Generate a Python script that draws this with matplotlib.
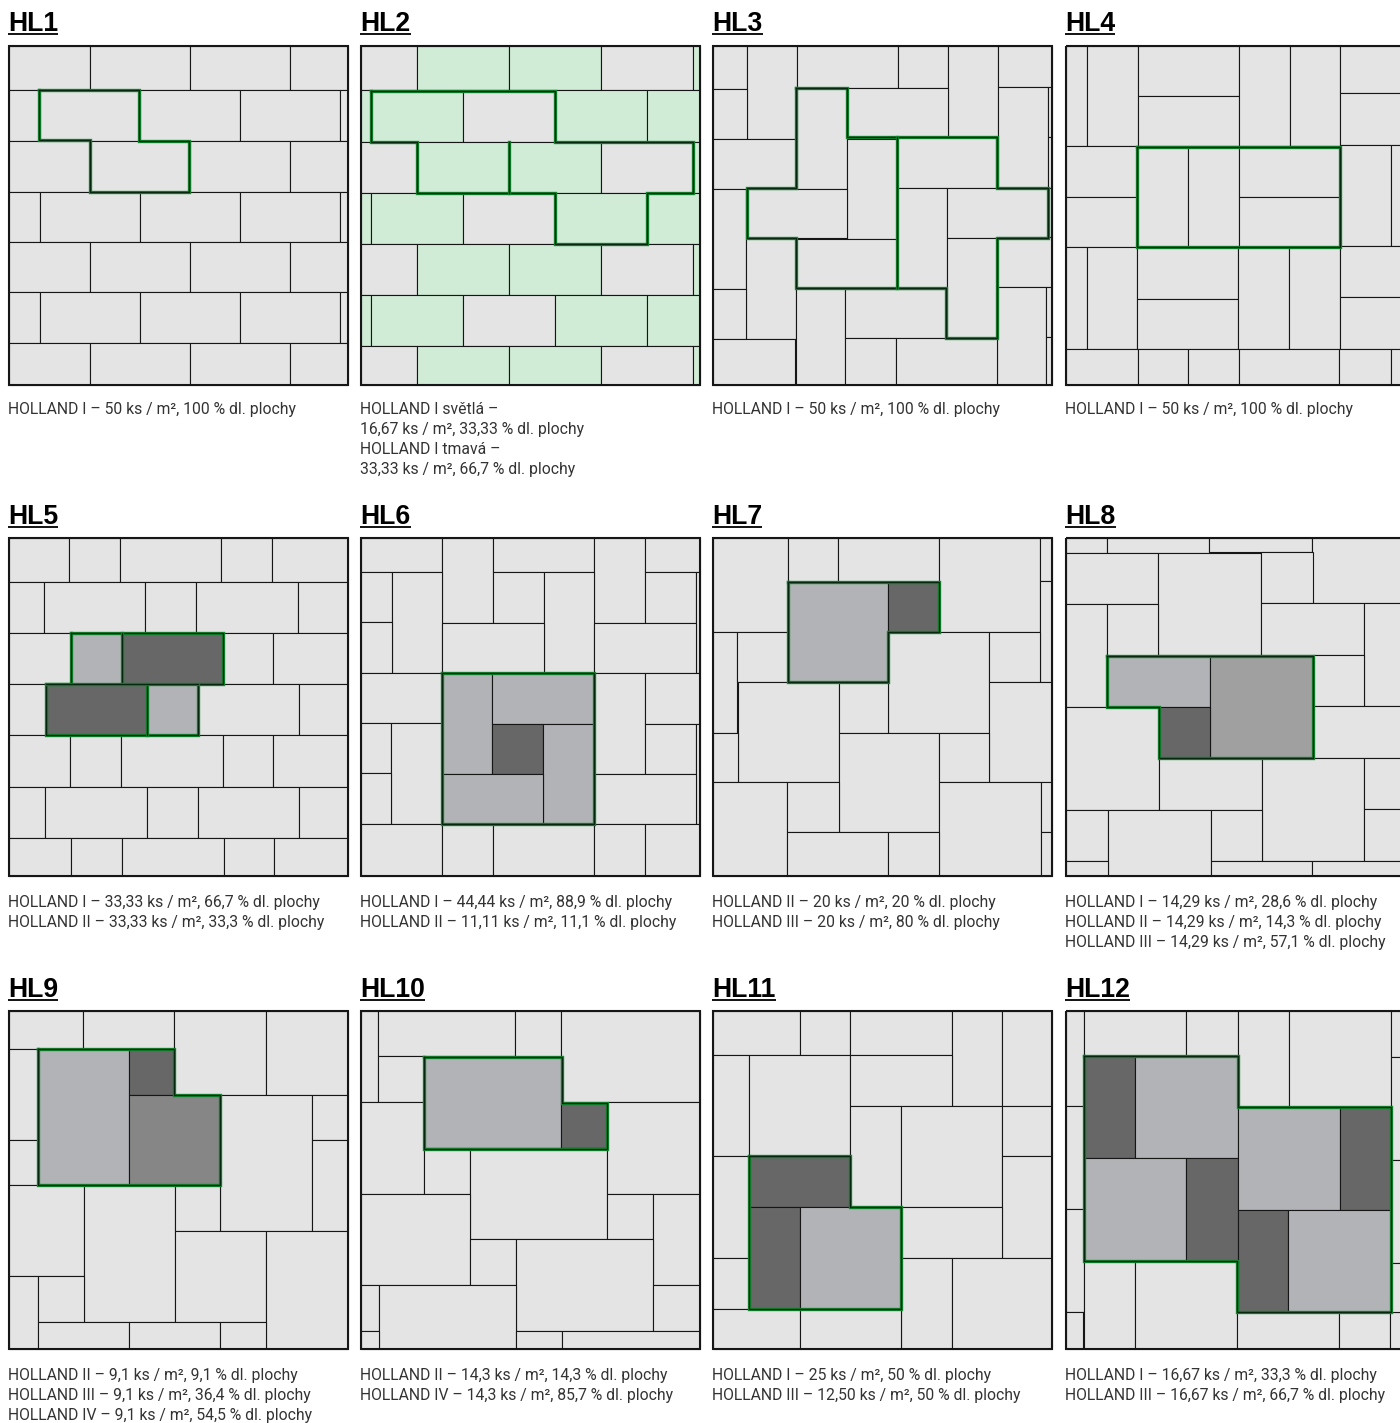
from matplotlib import pyplot as plt
from matplotlib.patches import Rectangle

GREY = '#E4E4E4'
LIGHT = '#B2B3B6'
DARK = '#676767'
MID = '#A0A0A0'
MID2 = '#868686'
MINT = '#D0EBD6'

# panel origins on the page, tile numbers below are in 1/3 px from these
origins = [(0, 0), (355, 0), (705, 0), (1055, 0),
           (0, 495), (355, 495), (705, 495), (1055, 495),
           (0, 970), (355, 970), (705, 970), (1055, 970)]
frames = [(26, 139, 1043, 1154), (18, 139, 1035, 1154), (24, 139, 1040, 1154), (33, 139, 1060, 1154),
          (26, 129, 1043, 1143), (18, 129, 1035, 1143), (24, 129, 1040, 1143), (33, 129, 1060, 1143),
          (26, 122, 1043, 1136), (18, 122, 1035, 1136), (24, 122, 1040, 1136), (33, 122, 1060, 1136)]

titles = ['HL1', 'HL2', 'HL3', 'HL4', 'HL5', 'HL6', 'HL7', 'HL8', 'HL9', 'HL10', 'HL11', 'HL12']
titleBaselines = [31, 524, 997]
captionBaselines = [414, 907.5, 1380]

captions = [
    ['HOLLAND I – 50 ks / m², 100 % dl. plochy'],
    ['HOLLAND I světlá –', '16,67 ks / m², 33,33 % dl. plochy', 'HOLLAND I tmavá –', '33,33 ks / m², 66,7 % dl. plochy'],
    ['HOLLAND I – 50 ks / m², 100 % dl. plochy'],
    ['HOLLAND I – 50 ks / m², 100 % dl. plochy'],
    ['HOLLAND I – 33,33 ks / m², 66,7 % dl. plochy', 'HOLLAND II – 33,33 ks / m², 33,3 % dl. plochy'],
    ['HOLLAND I – 44,44 ks / m², 88,9 % dl. plochy', 'HOLLAND II – 11,11 ks / m², 11,1 % dl. plochy'],
    ['HOLLAND II – 20 ks / m², 20 % dl. plochy', 'HOLLAND III – 20 ks / m², 80 % dl. plochy'],
    ['HOLLAND I – 14,29 ks / m², 28,6 % dl. plochy', 'HOLLAND II – 14,29 ks / m², 14,3 % dl. plochy',
     'HOLLAND III – 14,29 ks / m², 57,1 % dl. plochy'],
    ['HOLLAND II – 9,1 ks / m², 9,1 % dl. plochy', 'HOLLAND III – 9,1 ks / m², 36,4 % dl. plochy',
     'HOLLAND IV – 9,1 ks / m², 54,5 % dl. plochy'],
    ['HOLLAND II – 14,3 ks / m², 14,3 % dl. plochy', 'HOLLAND IV – 14,3 ks / m², 85,7 % dl. plochy'],
    ['HOLLAND I – 25 ks / m², 50 % dl. plochy', 'HOLLAND III – 12,50 ks / m², 50 % dl. plochy'],
    ['HOLLAND I – 16,67 ks / m², 33,3 % dl. plochy', 'HOLLAND III – 16,67 ks / m², 66,7 % dl. plochy'],
]

# brick bonds: (top, bottom, joints, shades)
hl1Rows = [(139, 269, [270, 570, 869], None),
           (269, 423, [120, 420, 719, 1020], None),
           (423, 575, [270, 570, 869], None),
           (575, 726, [120, 420, 719, 1020], None),
           (726, 877, [270, 570, 869], None),
           (877, 1029, [120, 420, 719, 1020], None),
           (1029, 1154, [270, 570, 869], None)]
hl2Even = [GREY, MINT, MINT, GREY, MINT]
hl2Odd = [MINT, MINT, GREY, MINT, MINT]
hl2Rows = [(139, 271, [185, 461, 737, 1013], hl2Even),
           (271, 425, [47, 323, 599, 875], hl2Odd),
           (425, 579, [185, 461, 737, 1013], hl2Even),
           (579, 733, [47, 323, 599, 875], hl2Odd),
           (733, 886, [185, 461, 737, 1013], hl2Even),
           (886, 1039, [47, 323, 599, 875], hl2Odd),
           (1039, 1154, [185, 461, 737, 1013], hl2Even)]
hl5Rows = [(129, 262, [207, 359, 664, 816], None),
           (262, 415, [131, 436, 589, 894], None),
           (415, 568, [213, 365, 669, 820], [GREY, LIGHT, DARK, GREY, GREY]),
           (568, 721, [137, 442, 595, 898], [GREY, DARK, LIGHT, GREY, GREY]),
           (721, 875, [211, 363, 668, 820], None),
           (875, 1029, [135, 440, 593, 898], None),
           (1029, 1143, [214, 366, 671, 823], None)]

# free layouts: (left, top, right, bottom, shade)
hl3Tiles = [(24, 139, 126, 268, GREY), (126, 139, 276, 417, GREY), (276, 139, 578, 264, GREY),
            (578, 139, 728, 264, GREY), (728, 139, 878, 412, GREY), (878, 139, 1040, 262, GREY),
            (24, 268, 126, 417, GREY), (276, 264, 426, 566, GREY), (426, 264, 728, 412, GREY),
            (878, 262, 1028, 563, GREY), (1028, 262, 1040, 411, GREY), (1028, 411, 1040, 563, GREY),
            (24, 417, 274, 566, GREY), (426, 417, 576, 716, GREY), (576, 412, 874, 563, GREY),
            (24, 566, 123, 867, GREY), (123, 566, 426, 713, GREY), (576, 563, 725, 863, GREY),
            (725, 563, 1028, 713, GREY), (1028, 563, 1040, 712, GREY), (123, 713, 272, 1018, GREY),
            (272, 716, 576, 863, GREY), (725, 713, 875, 1015, GREY), (875, 712, 1040, 862, GREY),
            (24, 867, 123, 1018, GREY), (272, 863, 421, 1154, GREY), (421, 866, 722, 1015, GREY),
            (875, 862, 1024, 1154, GREY), (1024, 862, 1040, 1012, GREY), (1024, 1012, 1040, 1154, GREY),
            (24, 1018, 270, 1154, GREY), (421, 1015, 572, 1154, GREY), (572, 1015, 875, 1154, GREY)]
hl4Tiles = [(33, 139, 96, 439, GREY), (96, 139, 248, 439, GREY), (248, 139, 553, 287, GREY),
            (248, 287, 553, 439, GREY), (553, 139, 706, 437, GREY), (706, 139, 855, 437, GREY),
            (855, 139, 1060, 280, GREY), (855, 280, 1060, 434, GREY), (33, 439, 245, 590, GREY),
            (33, 590, 245, 742, GREY), (245, 439, 398, 742, GREY), (398, 439, 551, 742, GREY),
            (551, 439, 855, 591, GREY), (551, 591, 855, 740, GREY), (855, 434, 1008, 739, GREY),
            (1008, 434, 1060, 739, GREY), (33, 742, 95, 1047, GREY), (95, 742, 246, 1047, GREY),
            (246, 742, 550, 896, GREY), (246, 896, 550, 1047, GREY), (550, 740, 702, 1047, GREY),
            (702, 740, 854, 1047, GREY), (854, 739, 1060, 890, GREY), (854, 890, 1060, 1047, GREY),
            (33, 1047, 248, 1154, GREY), (248, 1047, 399, 1154, GREY), (399, 1047, 551, 1154, GREY),
            (551, 1047, 853, 1154, GREY), (853, 1047, 1008, 1154, GREY), (1008, 1047, 1060, 1154, GREY)]
hl6Tiles = [(18, 129, 262, 231, GREY), (262, 129, 414, 383, GREY), (414, 129, 718, 232, GREY),
            (718, 129, 870, 383, GREY), (870, 129, 1035, 231, GREY), (18, 231, 110, 382, GREY),
            (110, 231, 262, 533, GREY), (414, 232, 567, 383, GREY), (567, 232, 718, 533, GREY),
            (870, 231, 1022, 383, GREY), (1022, 231, 1035, 533, GREY), (18, 382, 110, 533, GREY),
            (262, 383, 567, 533, GREY), (718, 383, 1022, 533, GREY), (18, 533, 260, 684, GREY),
            (260, 533, 412, 836, LIGHT), (412, 533, 717, 686, LIGHT), (717, 533, 869, 836, GREY),
            (869, 535, 1035, 687, GREY), (18, 684, 109, 835, GREY), (109, 684, 260, 987, GREY),
            (412, 686, 565, 836, DARK), (565, 686, 717, 987, LIGHT), (869, 687, 1022, 838, GREY),
            (1022, 687, 1035, 988, GREY), (18, 835, 109, 987, GREY), (260, 836, 565, 987, LIGHT),
            (717, 838, 1022, 988, GREY), (18, 987, 262, 1143, GREY), (262, 988, 413, 1143, GREY),
            (413, 988, 718, 1143, GREY), (718, 988, 870, 1143, GREY), (870, 988, 1035, 1143, GREY)]
hl7Tiles = [(24, 129, 248, 412, GREY), (248, 129, 399, 260, GREY), (399, 129, 702, 260, GREY),
            (702, 129, 1005, 410, GREY), (1005, 129, 1040, 259, GREY), (1005, 259, 1040, 561, GREY),
            (24, 412, 97, 714, GREY), (97, 412, 248, 561, GREY), (248, 260, 550, 560, LIGHT),
            (550, 260, 702, 412, DARK), (550, 412, 853, 713, GREY), (853, 412, 1005, 561, GREY),
            (99, 561, 401, 862, GREY), (401, 560, 550, 713, GREY), (853, 561, 1040, 861, GREY),
            (24, 714, 99, 862, GREY), (401, 713, 703, 1012, GREY), (703, 713, 853, 861, GREY),
            (24, 862, 247, 1143, GREY), (247, 862, 401, 1012, GREY), (703, 861, 1008, 1143, GREY),
            (1008, 861, 1040, 1012, GREY), (1008, 1012, 1040, 1143, GREY), (247, 1012, 550, 1143, GREY),
            (550, 1012, 703, 1143, GREY)]
hl8Tiles = [(33, 129, 155, 174, GREY), (155, 129, 462, 174, GREY), (462, 129, 771, 172, GREY),
            (771, 129, 1060, 325, GREY), (33, 174, 309, 328, GREY), (309, 174, 619, 481, GREY),
            (619, 172, 773, 325, GREY), (33, 328, 156, 636, GREY), (156, 328, 309, 483, GREY),
            (619, 325, 928, 480, GREY), (928, 325, 1060, 633, GREY), (156, 483, 464, 636, LIGHT),
            (464, 483, 773, 790, MID), (773, 480, 928, 633, GREY), (33, 636, 311, 945, GREY),
            (311, 636, 464, 790, DARK), (773, 633, 1060, 790, GREY), (311, 790, 620, 944, GREY),
            (620, 790, 928, 1098, GREY), (928, 790, 1060, 943, GREY), (928, 943, 1060, 1097, GREY),
            (33, 945, 160, 1099, GREY), (160, 945, 467, 1143, GREY), (467, 944, 620, 1098, GREY),
            (33, 1099, 160, 1143, GREY), (467, 1098, 771, 1143, GREY), (771, 1097, 1060, 1143, GREY)]
hl9Tiles = [(26, 122, 250, 236, GREY), (250, 122, 523, 236, GREY), (523, 122, 797, 374, GREY),
            (797, 122, 1043, 374, GREY), (26, 236, 114, 509, GREY), (114, 236, 387, 646, LIGHT),
            (387, 236, 523, 374, DARK), (387, 374, 660, 646, MID2), (660, 374, 935, 783, GREY),
            (935, 374, 1043, 510, GREY), (935, 510, 1043, 783, GREY), (26, 509, 114, 646, GREY),
            (26, 646, 251, 918, GREY), (251, 646, 525, 1055, GREY), (525, 646, 660, 783, GREY),
            (525, 783, 799, 1055, GREY), (799, 783, 1043, 1136, GREY), (26, 918, 115, 1136, GREY),
            (115, 918, 251, 1055, GREY), (115, 1055, 388, 1136, GREY), (388, 1055, 661, 1136, GREY),
            (661, 1055, 799, 1136, GREY)]
hl10Tiles = [(18, 122, 70, 396, GREY), (70, 122, 481, 258, GREY), (481, 122, 619, 260, GREY),
             (619, 122, 1035, 397, GREY), (70, 258, 207, 396, GREY), (207, 260, 619, 534, LIGHT),
             (619, 399, 757, 534, DARK), (18, 396, 207, 671, GREY), (207, 534, 346, 671, GREY),
             (346, 534, 757, 808, GREY), (757, 397, 1035, 672, GREY), (18, 671, 346, 945, GREY),
             (757, 672, 895, 808, GREY), (895, 672, 1035, 946, GREY), (346, 808, 484, 945, GREY),
             (484, 808, 895, 1082, GREY), (18, 945, 72, 1082, GREY), (72, 945, 484, 1136, GREY),
             (895, 946, 1035, 1083, GREY), (18, 1082, 72, 1136, GREY), (484, 1082, 621, 1136, GREY),
             (621, 1083, 1035, 1136, GREY)]
hl11Tiles = [(24, 122, 284, 254, GREY), (284, 122, 436, 254, GREY), (436, 122, 741, 255, GREY),
             (741, 122, 892, 407, GREY), (892, 122, 1040, 407, GREY), (24, 254, 131, 558, GREY),
             (131, 254, 435, 557, GREY), (435, 255, 741, 407, GREY), (436, 407, 588, 712, GREY),
             (588, 407, 891, 712, GREY), (891, 407, 1040, 559, GREY), (891, 559, 1040, 864, GREY),
             (24, 558, 131, 863, GREY), (133, 557, 436, 712, DARK), (133, 712, 285, 1017, DARK),
             (285, 712, 587, 1017, LIGHT), (588, 712, 891, 864, GREY), (24, 863, 131, 1016, GREY),
             (588, 864, 742, 1136, GREY), (742, 864, 1040, 1136, GREY), (24, 1016, 284, 1136, GREY),
             (284, 1017, 588, 1136, GREY)]
hl12Tiles = [(33, 122, 86, 409, GREY), (86, 122, 394, 257, GREY), (394, 122, 548, 257, GREY),
             (548, 122, 701, 411, GREY), (701, 122, 1008, 410, GREY), (1008, 122, 1060, 260, GREY),
             (33, 409, 86, 718, GREY), (86, 257, 240, 565, DARK), (240, 257, 548, 565, LIGHT),
             (1008, 260, 1060, 569, GREY), (33, 718, 86, 1027, GREY), (86, 565, 394, 873, LIGHT),
             (394, 565, 548, 873, DARK), (548, 411, 856, 719, LIGHT), (856, 411, 1008, 719, DARK),
             (1008, 569, 1060, 878, GREY), (548, 719, 700, 1027, DARK), (700, 719, 1008, 1027, LIGHT),
             (86, 873, 239, 1136, GREY), (239, 873, 546, 1136, GREY), (33, 1027, 84, 1136, GREY),
             (546, 1027, 853, 1136, GREY), (853, 1027, 1006, 1136, GREY), (1006, 1027, 1060, 1136, GREY),
             (1008, 878, 1060, 1027, GREY)]

# green outlined module of every pattern, closed unless listed under extras
outlines = [
    [(118, 270), (418, 270), (418, 423), (568, 423), (568, 575), (270, 575), (270, 420), (118, 420)],
    [(47, 272), (599, 272), (599, 425), (1013, 425), (1013, 579), (875, 579), (875, 733), (599, 733),
     (599, 579), (185, 579), (185, 425), (47, 425)],
    [(274, 264), (426, 264), (426, 412), (875, 412), (875, 563), (1028, 563), (1028, 713), (875, 713),
     (875, 1015), (723, 1015), (723, 863), (274, 863), (274, 713), (125, 713), (125, 563), (274, 563)],
    [(245, 441), (854, 441), (854, 741), (245, 741)],
    [(213, 415), (669, 415), (669, 568), (595, 568), (595, 721), (137, 721), (137, 568), (213, 568)],
    [(260, 533), (717, 533), (717, 988), (260, 988)],
    [(248, 260), (702, 260), (702, 412), (550, 412), (550, 560), (248, 560)],
    [(156, 483), (773, 483), (773, 790), (311, 790), (311, 636), (156, 636)],
    [(114, 236), (523, 236), (523, 374), (660, 374), (660, 646), (114, 646)],
    [(207, 260), (621, 260), (621, 399), (757, 399), (757, 536), (207, 536)],
    [(133, 557), (436, 557), (436, 712), (587, 712), (587, 1017), (133, 1017)],
    [(86, 257), (548, 257), (548, 411), (1008, 411), (1008, 1027), (546, 1027), (546, 873), (86, 873)],
]
extras = {1: [[(461, 425), (461, 579)]],
          2: [[(576, 412), (576, 863)]],
          4: [[(365, 415), (365, 568)], [(442, 568), (442, 721)], [(137, 568), (595, 568)]]}


def rowsToTiles(rows, left, right):
    # split each brick course at its joints
    tiles = []
    for top, bottom, joints, shades in rows:
        edges = [left] + joints + [right]
        for i in range(len(edges) - 1):
            shade = shades[i] if shades else GREY
            tiles.append((edges[i], top, edges[i + 1], bottom, shade))
    return tiles


def toPage(origin, x, y):
    return origin[0] + x / 3, origin[1] + y / 3


def drawTiles(ax, origin, tiles):
    for left, top, right, bottom, shade in tiles:
        x0, y0 = toPage(origin, left, top)
        x1, y1 = toPage(origin, right, bottom)
        ax.add_patch(Rectangle((x0, y0), x1 - x0, y1 - y0, facecolor=shade,
                               edgecolor='#161616', linewidth=0.8))


def drawOutline(ax, origin, points, closed=True):
    page = [toPage(origin, x, y) for x, y in points]
    if closed:
        page.append(page[0])
    xs = [p[0] for p in page]
    ys = [p[1] for p in page]
    ax.plot(xs, ys, color='#12892f', linewidth=2.4, solid_joinstyle='miter', solid_capstyle='projecting')
    ax.plot(xs, ys, color='#06280f', linewidth=1.0, solid_joinstyle='miter', solid_capstyle='projecting')


panelTiles = [rowsToTiles(hl1Rows, 26, 1043), rowsToTiles(hl2Rows, 18, 1035), hl3Tiles, hl4Tiles,
              rowsToTiles(hl5Rows, 26, 1043), hl6Tiles, hl7Tiles, hl8Tiles,
              hl9Tiles, hl10Tiles, hl11Tiles, hl12Tiles]

fig = plt.figure(figsize=(14, 14.23), dpi=100)
ax = fig.add_axes([0, 0, 1, 1])
ax.set_xlim(0, 1400)
ax.set_ylim(1423, 0)
ax.axis('off')

renderer = fig.canvas.get_renderer()
for i, origin in enumerate(origins):
    drawTiles(ax, origin, panelTiles[i])
    drawOutline(ax, origin, outlines[i])
    for segment in extras.get(i, []):
        drawOutline(ax, origin, segment, closed=False)

    left, top, right, bottom = frames[i]
    x0, y0 = toPage(origin, left, top)
    x1, y1 = toPage(origin, right, bottom)
    ax.add_patch(Rectangle((x0, y0), x1 - x0, y1 - y0, fill=False, edgecolor='#161616', linewidth=1.5))

    row = i // 4
    label = ax.text(x0 - 0.7, titleBaselines[row], titles[i], family=['Liberation Sans', 'DejaVu Sans'],
                    fontsize=19.2, fontweight='bold', color='black', va='baseline')
    width = label.get_window_extent(renderer).width
    ax.plot([x0 - 0.7, x0 - 0.7 + width], [titleBaselines[row] + 3] * 2, color='black', linewidth=1.3,
            solid_capstyle='butt')

    for j, line in enumerate(captions[i]):
        ax.text(x0 - 0.7, captionBaselines[row] + 20 * j, line, family=['Roboto', 'Liberation Sans'],
                fontsize=11.3, color='#333333', va='baseline')

fig.savefig('out.png', dpi=100)
